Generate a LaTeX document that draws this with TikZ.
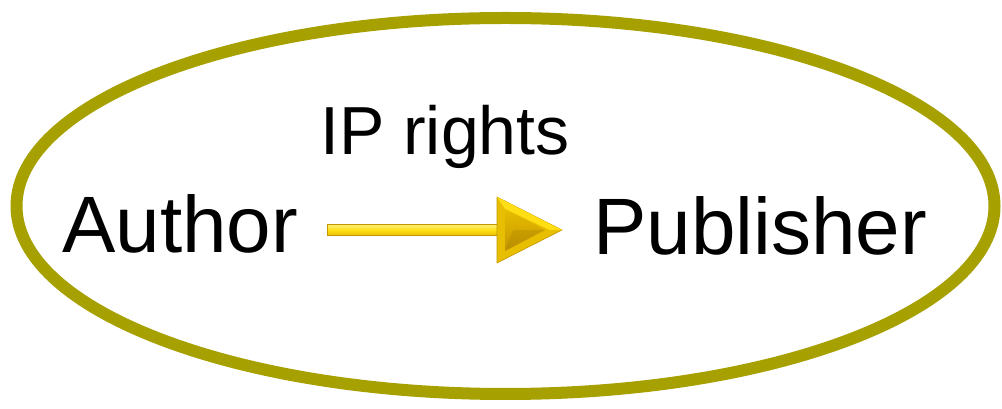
\documentclass[tikz,border=0pt]{standalone}
\usepackage{fontspec}
\setmainfont{Liberation Sans}
\usetikzlibrary{calc}
\definecolor{olive}{RGB}{166,160,0}
\definecolor{arrowyel}{RGB}{255,222,20}
\definecolor{arrowgold}{RGB}{232,190,0}
\definecolor{arrowdark}{RGB}{196,150,0}
\definecolor{arrowlight}{RGB}{255,240,120}
\begin{document}
\begin{tikzpicture}[x=1pt,y=1pt,
  lbl/.style={inner sep=0pt,anchor=base west,font=\fontsize{80}{96}\selectfont},
  small/.style={inner sep=0pt,anchor=base west,font=\fontsize{68}{82}\selectfont}]
\useasboundingbox (0,0) rectangle (1002,409);
\draw[olive,line width=12pt] (505.5,203) ellipse [x radius=489, y radius=188];
\node[lbl] (author) at (62,156) {Author};
\node[lbl] (publisher) at (593,154) {Publisher};
\node[small] (ip) at (320,254) {IP rights};
\coordinate (s) at (327,179);
\coordinate (e) at (562,179);
% shaft
\path (s) ++(0,-5.5) coordinate (s1) (s) ++(178,5.5) coordinate (s2);
\shade[top color=arrowlight,bottom color=arrowgold,middle color=arrowyel,draw=arrowdark,line width=0.6pt] (s1) rectangle (s2);
% head
\path (e) ++(-65,33) coordinate (h1) (e) ++(-65,-33) coordinate (h2);
\fill[arrowgold,draw=arrowdark,line width=0.6pt] (h1) -- (e) -- (h2) -- cycle;
\fill[arrowyel] (h1) -- (e) -- ($(e)+(-12,0)$) -- ($(h1)+(8,-12)$) -- cycle;
\path (e) ++(-57,21) coordinate (i1) (e) ++(-57,-21) coordinate (i2) (e) ++(-17,0) coordinate (i3);
\shade[top color=arrowgold,bottom color=arrowdark] (i1) -- (i3) -- (i2) -- cycle;
\fill[arrowdark!80!black,opacity=0.25] (i2) -- (i3) -- ($(i1)!0.5!(i2)+(8,0)$) -- cycle;
\end{tikzpicture}
\end{document}
